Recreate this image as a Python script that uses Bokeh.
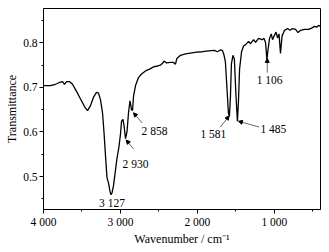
from bokeh.plotting import figure
from bokeh.models import Range1d, FixedTicker, Arrow, NormalHead, ColumnDataSource
from bokeh.core.properties import value
from bokeh.embed import file_html
from bokeh.resources import INLINE

# IR spectrum: wavenumber (cm^-1) and transmittance
wavenumber = [4000, 3909, 3844, 3792, 3753, 3727, 3701, 3662, 3623, 3571,
              3519, 3467, 3428, 3389, 3350, 3311, 3285, 3259, 3233, 3214,
              3194, 3175, 3155, 3136, 3123, 3110, 3090, 3064, 3045, 3019,
              2999, 2986, 2967, 2954, 2934, 2915, 2895, 2876, 2856, 2843,
              2830, 2804, 2765, 2726, 2674, 2622, 2570, 2518, 2479, 2453,
              2434, 2402, 2350, 2311, 2285, 2266, 2220, 2155, 2090, 2012,
              1934, 1856, 1779, 1740, 1701, 1675, 1656, 1636, 1617, 1597,
              1584, 1571, 1558, 1538, 1519, 1500, 1480, 1467, 1452, 1426,
              1400, 1374, 1335, 1309, 1270, 1244, 1205, 1160, 1134, 1114,
              1097, 1082, 1062, 1040, 1023, 1004, 978, 958, 939, 920,
              900, 867, 828, 796, 763, 724, 692, 659, 607, 555,
              516, 477, 451, 425, 400]
transmittance = [0.704, 0.704, 0.707, 0.711, 0.713, 0.707, 0.713, 0.713, 0.707, 0.691,
                 0.674, 0.657, 0.648, 0.659, 0.678, 0.689, 0.687, 0.672, 0.643, 0.600,
                 0.546, 0.498, 0.485, 0.467, 0.459, 0.463, 0.480, 0.515, 0.541, 0.567,
                 0.596, 0.624, 0.628, 0.615, 0.585, 0.600, 0.643, 0.670, 0.650, 0.648,
                 0.680, 0.704, 0.722, 0.730, 0.737, 0.741, 0.746, 0.748, 0.750, 0.754,
                 0.759, 0.755, 0.756, 0.756, 0.752, 0.765, 0.772, 0.775, 0.777, 0.779,
                 0.780, 0.782, 0.783, 0.780, 0.784, 0.783, 0.774, 0.757, 0.702, 0.643,
                 0.635, 0.676, 0.752, 0.772, 0.763, 0.687, 0.624, 0.665, 0.741, 0.780,
                 0.793, 0.796, 0.803, 0.798, 0.807, 0.801, 0.810, 0.807, 0.810, 0.800,
                 0.763, 0.785, 0.810, 0.820, 0.807, 0.815, 0.824, 0.811, 0.820, 0.776,
                 0.815, 0.828, 0.832, 0.828, 0.832, 0.830, 0.823, 0.828, 0.830, 0.830,
                 0.833, 0.837, 0.835, 0.839, 0.837]

# Peak annotations (label text, label position, arrow tail, arrow tip) in data units
peak_labels = ["3 127", "2 930", "2 858", "1 581", "1 485", "1 106"]
label_x = [3110, 2804, 2558, 1792, 1013, 1061]
label_y = [0.441, 0.527, 0.602, 0.596, 0.607, 0.716]
arrow_tail_x = [2830, 2717, 1701, 1195, 1092]
arrow_tail_y = [0.562, 0.620, 0.611, 0.611, 0.733]
arrow_tip_x = [2925, 2830, 1588, 1467, 1092]
arrow_tip_y = [0.582, 0.643, 0.636, 0.624, 0.765]

x_ticks = [1000, 2000, 3000, 4000]
x_minor = [500, 1500, 2500, 3500]
x_tick_labels = {1000: "1 000", 2000: "2 000", 3000: "3 000", 4000: "4 000"}
y_ticks = [0.5, 0.6, 0.7, 0.8]
y_minor = [0.45, 0.55, 0.65, 0.75, 0.85]

FONT = "Liberation Serif"

p = figure(width=321, height=248,
           x_range=Range1d(4000, 400), y_range=Range1d(0.426, 0.877),
           output_backend="svg", toolbar_location=None,
           min_border_left=43, min_border_top=8, min_border_right=1, min_border_bottom=33)
p.background_fill_color = "white"
p.border_fill_color = "white"
p.outline_line_color = "black"
p.outline_line_width = 1
p.outline_line_alpha = 1
p.xgrid.visible = False
p.ygrid.visible = False

p.line(wavenumber, transmittance, line_color="black", line_width=1.3)

src = ColumnDataSource(dict(x=label_x, y=label_y, t=peak_labels))
p.text(x="x", y="y", text="t", source=src, text_font=value(FONT),
       text_font_size="11.5px", text_align="center", text_baseline="middle",
       text_color="black")

for xs, ys, xe, ye in zip(arrow_tail_x, arrow_tail_y, arrow_tip_x, arrow_tip_y):
    p.add_layout(Arrow(x_start=xs, y_start=ys, x_end=xe, y_end=ye,
                       line_color="black", line_width=0.6,
                       end=NormalHead(size=4, fill_color="black", line_color="black")))

for ax in (p.xaxis[0], p.yaxis[0]):
    ax.axis_line_color = "black"
    ax.major_tick_line_color = "black"
    ax.minor_tick_line_color = "black"
    ax.major_tick_in = 0
    ax.major_tick_out = 4
    ax.minor_tick_in = 0
    ax.minor_tick_out = 2
    ax.major_label_text_font = FONT
    ax.major_label_text_font_size = "11.5px"
    ax.major_label_text_color = "black"
    ax.major_label_standoff = 2
    ax.axis_label_text_font = FONT
    ax.axis_label_text_font_size = "12px"
    ax.axis_label_text_font_style = "normal"
    ax.axis_label_text_color = "black"
    ax.axis_label_standoff = 1

p.xaxis.ticker = FixedTicker(ticks=x_ticks, minor_ticks=x_minor)
p.xaxis.major_label_overrides = x_tick_labels
p.xaxis.axis_label = "Wavenumber / cm\u207b\u00b9"
p.yaxis.ticker = FixedTicker(ticks=y_ticks, minor_ticks=y_minor)
p.yaxis.axis_label = "Transmittance"

open("out.html", "w").write(file_html(p, INLINE))
